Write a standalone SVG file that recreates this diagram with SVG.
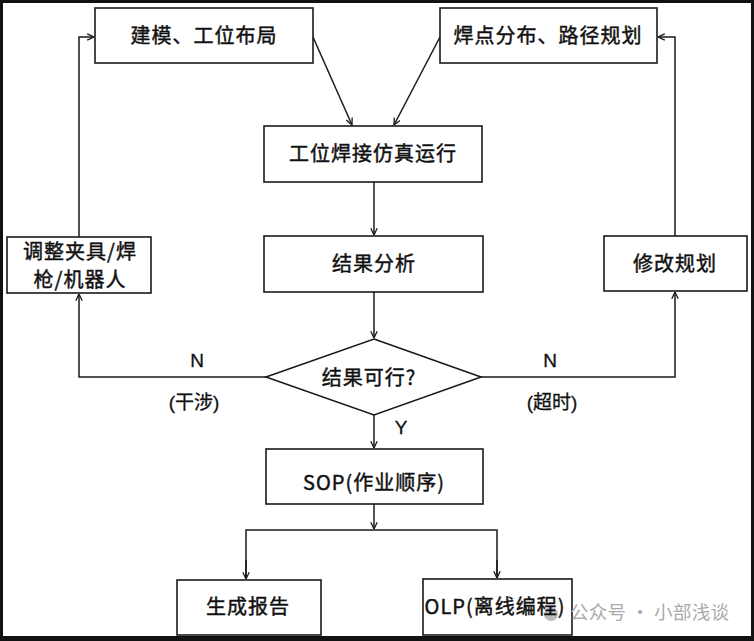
<svg xmlns="http://www.w3.org/2000/svg" width="754" height="641" viewBox="0 0 754 641">
<defs>
<marker id="arr" viewBox="0 0 10 10" refX="9.5" refY="5" markerWidth="8" markerHeight="8" markerUnits="userSpaceOnUse" orient="auto">
<path d="M1,1 L9.5,5 L1,9" fill="none" stroke="#1a1a1a" stroke-width="1.6"/>
</marker>
<style>
.box{fill:#fff;stroke:#1a1a1a;stroke-width:1.6}
.t{font-family:"Noto Sans CJK SC","Liberation Sans",sans-serif;font-size:20px;fill:#111;stroke:#111;stroke-width:0.45;text-anchor:middle;letter-spacing:1px}
.lbl{font-family:"Liberation Sans","Noto Sans CJK SC",sans-serif;font-size:19px;fill:#111;stroke:#111;stroke-width:0.3;text-anchor:middle}
.c{fill:none;stroke:#1a1a1a;stroke-width:1.5}
</style>
</defs>
<rect x="0" y="0" width="754" height="641" fill="#fff"/>
<g id="connectors">
<line class="c" x1="313" y1="37" x2="352" y2="125" marker-end="url(#arr)"/>
<line class="c" x1="440" y1="37" x2="394" y2="125" marker-end="url(#arr)"/>
<line class="c" x1="374" y1="182" x2="374" y2="235" marker-end="url(#arr)"/>
<line class="c" x1="374" y1="292" x2="374" y2="338" marker-end="url(#arr)"/>
<line class="c" x1="374" y1="415" x2="374" y2="448" marker-end="url(#arr)"/>
<polyline class="c" points="266,377 79,377 79,294" marker-end="url(#arr)"/>
<polyline class="c" points="79,237 79,37 94,37" marker-end="url(#arr)"/>
<polyline class="c" points="481,377 675,377 675,292" marker-end="url(#arr)"/>
<polyline class="c" points="675,236 675,37 658,37" marker-end="url(#arr)"/>
<line class="c" x1="374" y1="504" x2="374" y2="529" marker-end="url(#arr)"/>
<polyline class="c" points="246,579 246,530 497,530 497,578"/>
<line class="c" x1="246" y1="560" x2="246" y2="579" marker-end="url(#arr)"/>
<line class="c" x1="497" y1="560" x2="497" y2="578" marker-end="url(#arr)"/>
<text class="lbl" x="197" y="367">N</text>
<text class="lbl" x="194" y="409">(干涉)</text>
<text class="lbl" x="550" y="367">N</text>
<text class="lbl" x="552" y="409">(超时)</text>
<text class="lbl" x="401" y="434">Y</text>
</g>
<g id="n-model">
<rect class="box" x="95" y="8" width="218" height="55"/>
<text class="t" x="204" y="43">建模、工位布局</text>
</g>
<g id="n-weldpath">
<rect class="box" x="440" y="8" width="217" height="55"/>
<text class="t" x="548" y="43">焊点分布、路径规划</text>
</g>
<g id="n-sim">
<rect class="box" x="264" y="126" width="218" height="56"/>
<text class="t" x="373" y="161">工位焊接仿真运行</text>
</g>
<g id="n-analysis">
<rect class="box" x="264" y="236" width="219" height="56"/>
<text class="t" x="374" y="271">结果分析</text>
</g>
<g id="n-adjust">
<rect class="box" x="7" y="237" width="144" height="56"/>
<text class="t" x="80" y="259">调整夹具/焊</text>
<text class="t" x="80" y="287">枪/机器人</text>
</g>
<g id="n-replan">
<rect class="box" x="604" y="236" width="143" height="55"/>
<text class="t" x="675" y="271">修改规划</text>
</g>
<g id="n-decision">
<polygon class="box" points="374,339 481,377 374,415 266,377"/>
<text class="t" x="369" y="385">结果可行?</text>
</g>
<g id="n-sop">
<rect class="box" x="266" y="449" width="217" height="55"/>
<text class="t" x="374" y="490">SOP(作业顺序)</text>
</g>
<g id="n-report">
<rect class="box" x="177" y="580" width="144" height="55"/>
<text class="t" x="248" y="614">生成报告</text>
</g>
<g id="n-olp">
<rect class="box" x="423" y="579" width="149" height="56"/>
<circle cx="551" cy="614" r="7" fill="#bbb"/>
<text class="t" x="495" y="614">OLP(离线编程)</text>
</g>
<g id="watermark">
<text x="570" y="619" font-family="Noto Sans CJK SC, sans-serif" font-size="18.5" letter-spacing="0.3" fill="#aaa">公众号 · 小部浅谈</text>
</g>
<rect x="1.5" y="1.5" width="751" height="636" fill="none" stroke="#111" stroke-width="3"/>
<line x1="0" y1="639" x2="754" y2="639" stroke="#111" stroke-width="4"/>
</svg>
